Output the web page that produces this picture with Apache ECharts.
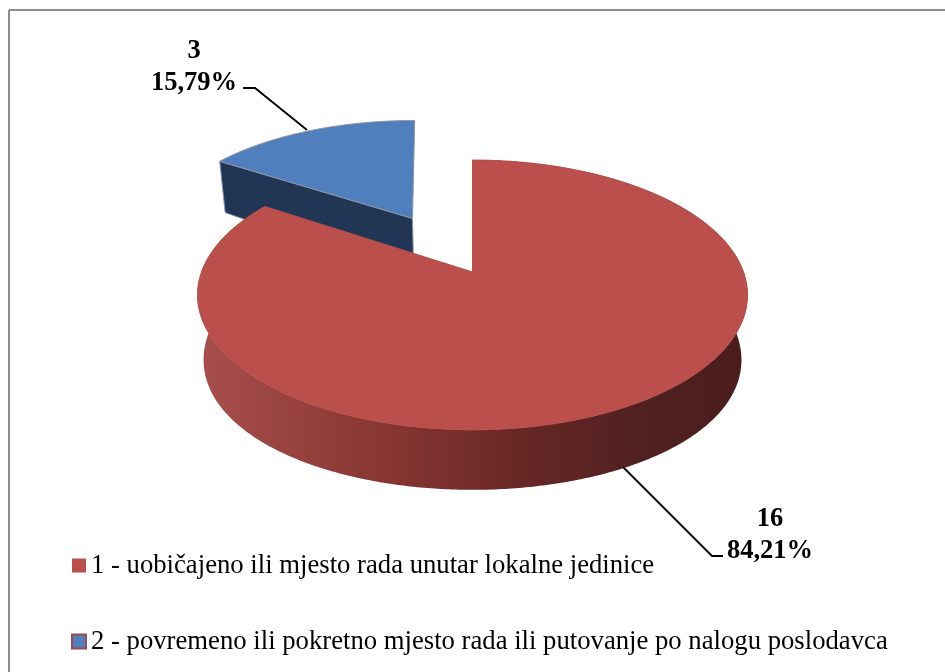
<!DOCTYPE html>
<html>
<head>
<meta charset="utf-8">
<style>html,body{margin:0;padding:0;background:#fff}#main{width:945px;height:672px}</style>
<script src="https://cdn.jsdelivr.net/npm/echarts@6/dist/echarts.min.js"></script>
</head>
<body>
<div id="main"></div>
<script>
var categories = ['1 - uobičajeno ili mjesto rada unutar lokalne jedinice',
                  '2 - povremeno ili pokretno mjesto rada ili putovanje po nalogu poslodavca'];
var counts = [16, 3];
var explode = [0, 0.5];
var lean = [0, -6];
var topColors = ['#bb4f4c', '#4f7fbc'];
var topEdges = ['#b84e4b', '#8d93a6'];
var cutColor = '#203654';
var serif = '"Liberation Serif","Times New Roman",serif';

var total = counts[0] + counts[1];

// fake 3d: disc coords (u right, v away from viewer) -> screen
var X0 = 472.5, Y0 = 272, B = 271, A = 131, K = 0.17;
function proj(u, v, low) {
    var s = 1 / (1 + K * v);
    var x = B * u * s * (low ? 0.978 : 1);
    var y = -A * v * s;
    if (low) y += 64.5 - 4.5 * v - 9 * v * v;
    return [X0 + x, Y0 + y];
}

function sliceAngles(i) {
    var a = 0;
    for (var k = 0; k < i; k++) a += counts[k] / total * Math.PI * 2;
    return [a, a + counts[i] / total * Math.PI * 2];
}

function arcPts(i, low) {
    var ang = sliceAngles(i), mid = (ang[0] + ang[1]) / 2;
    var u0 = Math.sin(mid) * explode[i], v0 = Math.cos(mid) * explode[i];
    var pts = [], n = Math.ceil((ang[1] - ang[0]) * 90);
    for (var j = 0; j <= n; j++) {
        var t = ang[0] + (ang[1] - ang[0]) * j / n;
        var p = proj(u0 + Math.sin(t), v0 + Math.cos(t), low);
        p[0] += lean[i] * Math.cos(t);
        pts.push(p);
    }
    return {pts: pts, apex: proj(u0, v0, low)};
}

var leaders = [
    [[623, 467], [712, 556], [723, 556]],
    [[243, 88], [255, 88], [307, 130]]
];
var labelPos = [[770, 535], [194, 67]];

function pctText(i) {
    return (counts[i] / total * 100).toFixed(2).replace('.', ',') + '%';
}

function renderSlice(params) {
    var i = params.seriesIndex;
    var up = arcPts(i, false), dn = arcPts(i, true);
    var children = [];
    if (i == 0) {
        // outer wall, only the red one shows
        children.push({type: 'polygon', shape: {points: up.pts.concat(dn.pts.slice().reverse())},
            style: {fill: new echarts.graphic.LinearGradient(0, 0, 1, 0, [
                {offset: 0, color: '#a84f4c'},
                {offset: 0.35, color: '#863531'},
                {offset: 0.6, color: '#662725'},
                {offset: 0.8, color: '#502120'},
                {offset: 1, color: '#4a1d1c'}
            ])}});
    } else {
        // cut face of the pulled out slice
        children.push({type: 'polygon', shape: {points: [up.apex, up.pts[0], dn.pts[0], dn.apex]},
            style: {fill: cutColor, stroke: topEdges[i], lineWidth: 1}});
    }
    children.push(
        {type: 'polygon', shape: {points: [up.apex].concat(up.pts)},
            style: {fill: topColors[i], stroke: topEdges[i], lineWidth: 1}},
        {type: 'polyline', shape: {points: leaders[i]},
            style: {stroke: '#000', lineWidth: 1.8, fill: null}},
        {type: 'text', style: {
            x: labelPos[i][0], y: labelPos[i][1],
            text: counts[i] + '\n' + pctText(i),
            font: 'bold 26.5px ' + serif, lineHeight: 32,
            fill: '#000', align: 'center', verticalAlign: 'middle'
        }}
    );
    return {type: 'group', children: children};
}

var myChart = echarts.init(document.getElementById('main'), null, {renderer: 'canvas'});
myChart.setOption({
    animation: false,
    backgroundColor: '#fff',
    graphic: [
        {type: 'line', shape: {x1: 9, y1: 10, x2: 945, y2: 10}, style: {stroke: '#8c8c8c', lineWidth: 2}},
        {type: 'line', shape: {x1: 9, y1: 10, x2: 9, y2: 672}, style: {stroke: '#8c8c8c', lineWidth: 2}}
    ],
    legend: {
        orient: 'vertical',
        left: 66,
        top: 547,
        itemWidth: 14,
        itemHeight: 14,
        itemGap: 49,
        icon: 'rect',
        selectedMode: false,
        textStyle: {fontFamily: serif, fontSize: 26.7, color: '#000'},
        data: [
            {name: categories[0], itemStyle: {color: topColors[0], borderWidth: 0}},
            {name: categories[1], itemStyle: {color: topColors[1], borderColor: '#9a4b50', borderWidth: 2}}
        ]
    },
    series: [
        {type: 'custom', name: categories[0], coordinateSystem: 'none', z: 3,
            renderItem: renderSlice, data: [counts[0]], itemStyle: {color: topColors[0]}},
        {type: 'custom', name: categories[1], coordinateSystem: 'none', z: 2,
            renderItem: renderSlice, data: [counts[1]], itemStyle: {color: topColors[1]}}
    ]
});
</script>
</body>
</html>
